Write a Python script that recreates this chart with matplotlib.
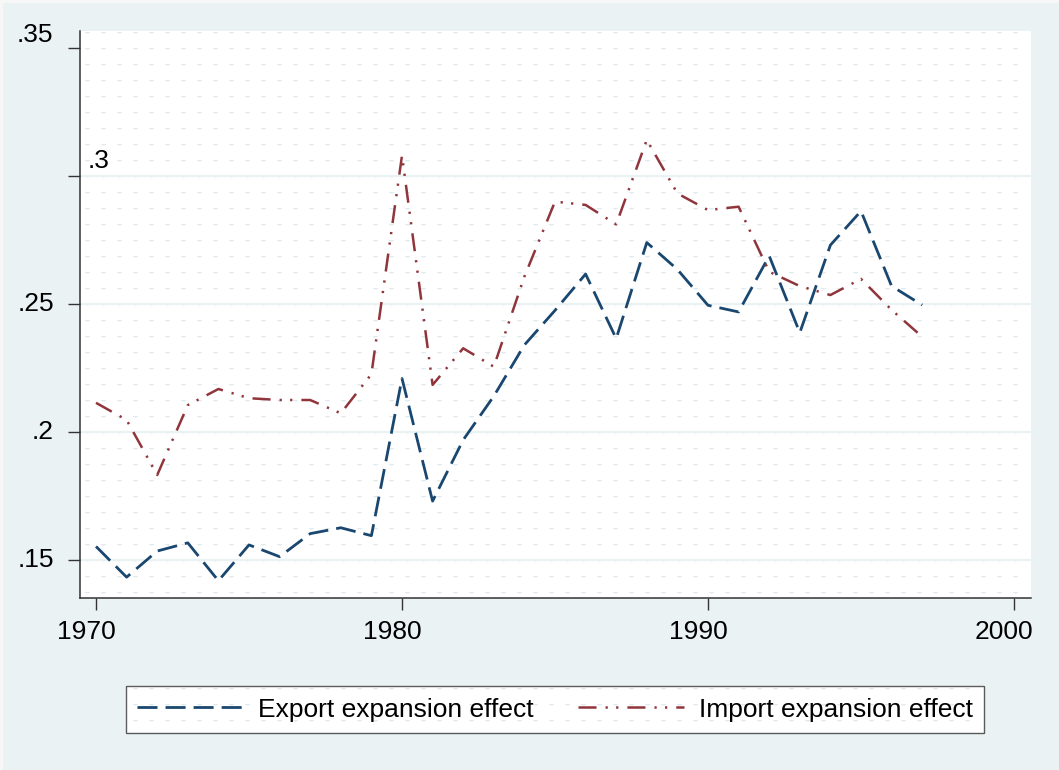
import numpy as np
import matplotlib
matplotlib.use("Agg")
import matplotlib.pyplot as plt
from matplotlib.transforms import offset_copy

# ---------------- data ----------------
years = [1970, 1971, 1972, 1973, 1974, 1975, 1976, 1977, 1978, 1979,
         1980, 1981, 1982, 1983, 1984, 1985, 1986, 1987, 1988, 1989,
         1990, 1991, 1992, 1993, 1994, 1995, 1996, 1997]
export_effect = [0.1553, 0.1433, 0.1535, 0.1567, 0.1419, 0.1559, 0.1513, 0.1603,
                 0.1626, 0.1595, 0.2209, 0.1730, 0.1969, 0.2140, 0.2340, 0.2475,
                 0.2617, 0.2365, 0.2740, 0.2635, 0.2495, 0.2469, 0.2688, 0.2388,
                 0.2730, 0.2863, 0.2570, 0.2496]
import_effect = [0.2114, 0.2047, 0.1832, 0.2105, 0.2168, 0.2132, 0.2125, 0.2125,
                 0.2073, 0.2226, 0.3080, 0.2184, 0.2327, 0.2255, 0.2607, 0.2900,
                 0.2887, 0.2811, 0.3141, 0.2932, 0.2867, 0.2880, 0.2626, 0.2570,
                 0.2535, 0.2598, 0.2477, 0.2372]
series_labels = ["Export expansion effect", "Import expansion effect"]
x_ticks = [1970, 1980, 1990, 2000]
x_tick_labels = ["1970", "1980", "1990", "2000"]
y_ticks = [0.15, 0.20, 0.25, 0.30, 0.35]
y_tick_labels = [".15", ".2", ".25", ".3", ".35"]

# ---------------- style ----------------
W, H, DPI = 1059, 770, 100
BG = "#eaf2f3"
BLUE = "#1a476f"
RED = "#90353b"
AXC = "#333333"
FS = 19

plt.rcParams["font.family"] = ["Liberation Sans", "DejaVu Sans"]
plt.rcParams["lines.scale_dashes"] = False

fig = plt.figure(figsize=(W / DPI, H / DPI), dpi=DPI)
fig.patch.set_facecolor(BG)

ax = fig.add_axes([80 / W, 1 - 598 / H, (1031 - 80) / W, (598 - 31) / H])
ax.patch.set_visible(False)
ax.set_xlim(1969.477, 2000.556)
ax.set_ylim(0.13516, 0.35664)

ax.set_xticks(x_ticks)
ax.set_yticks(y_ticks)
ax.tick_params(axis="both", length=8.6, width=1.0, color=AXC,
               labelleft=False, labelbottom=False, direction="out")
for s in ("top", "right"):
    ax.spines[s].set_visible(False)
for s in ("left", "bottom"):
    ax.spines[s].set_color(AXC)
    ax.spines[s].set_linewidth(1.1)

ax.yaxis.grid(True, color=BG, linewidth=1.6)
ax.get_ygridlines()[-1].set_visible(False)
ax.set_axisbelow(True)

ax.plot(years, export_effect, color=BLUE, lw=2.0, dashes=(14.4, 5.8),
        label=series_labels[0], zorder=3)
ax.plot(years, import_effect, color=RED, lw=1.8,
        dashes=(13, 6.5, 1.6, 6.0, 1.6, 6.5),
        label=series_labels[1], zorder=3)

# tick labels as text
tx = ax.get_xaxis_transform()
for v, s in zip(x_ticks, x_tick_labels):
    ax.text(v, 0, s, transform=offset_copy(tx, fig=fig, x=-10, y=-22, units="dots"),
            ha="center", va="top", fontsize=FS, color="black", clip_on=False)

ty = ax.get_yaxis_transform()
special = {".35": (-27, 13, "right"), ".3": (8, 15, "left")}
for v, s in zip(y_ticks, y_tick_labels):
    dx, dy, ha = special.get(s, (-26, 0, "right"))
    ax.text(0, v, s, transform=offset_copy(ty, fig=fig, x=dx, y=dy, units="dots"),
            ha=ha, va="center", fontsize=FS, color="black", clip_on=False)

leg = ax.legend(loc="center", bbox_to_anchor=(555 / W, 1 - 709.5 / H),
                bbox_transform=fig.transFigure, ncol=2, fontsize=FS,
                handlelength=4.0, handletextpad=0.57, columnspacing=1.7,
                borderpad=0.42, fancybox=False, frameon=True,
                edgecolor=AXC, facecolor="none")
leg.get_frame().set_linewidth(1.0)

# ---------------- background texture (plot region and legend box) ----------------
fig.canvas.draw()
bg_rgb = np.array(matplotlib.colors.to_rgb(BG))
img = np.ones((H, W, 3)) * bg_rgb
img[:3, :, :] = 0.97
img[:, :3, :] = 0.97
dot1 = np.array([0.89, 0.925, 0.935])
dot2 = np.array([0.94, 0.96, 0.965])


def paint(bb):
    x0, x1 = int(round(bb.x0)), int(round(bb.x1))
    y0, y1 = H - int(round(bb.y1)), H - int(round(bb.y0))
    img[y0:y1, x0:x1, :] = 1.0
    for r in range(32, H - 2, 16):
        if r < y0 + 1 or r > y1 - 3:
            continue
        for c in range(85, W - 6, 16):
            if c < x0 + 1 or c + 6 > x1 - 1:
                continue
            img[r, c:c + 5] = dot1
            img[r + 1, c + 1:c + 4] = dot2


paint(ax.get_window_extent())
paint(leg.get_window_extent())
fi = fig.figimage(img, xo=0, yo=0, origin="upper")
fi.set_zorder(-10)

fig.savefig("out.png", dpi=DPI, facecolor=BG)
